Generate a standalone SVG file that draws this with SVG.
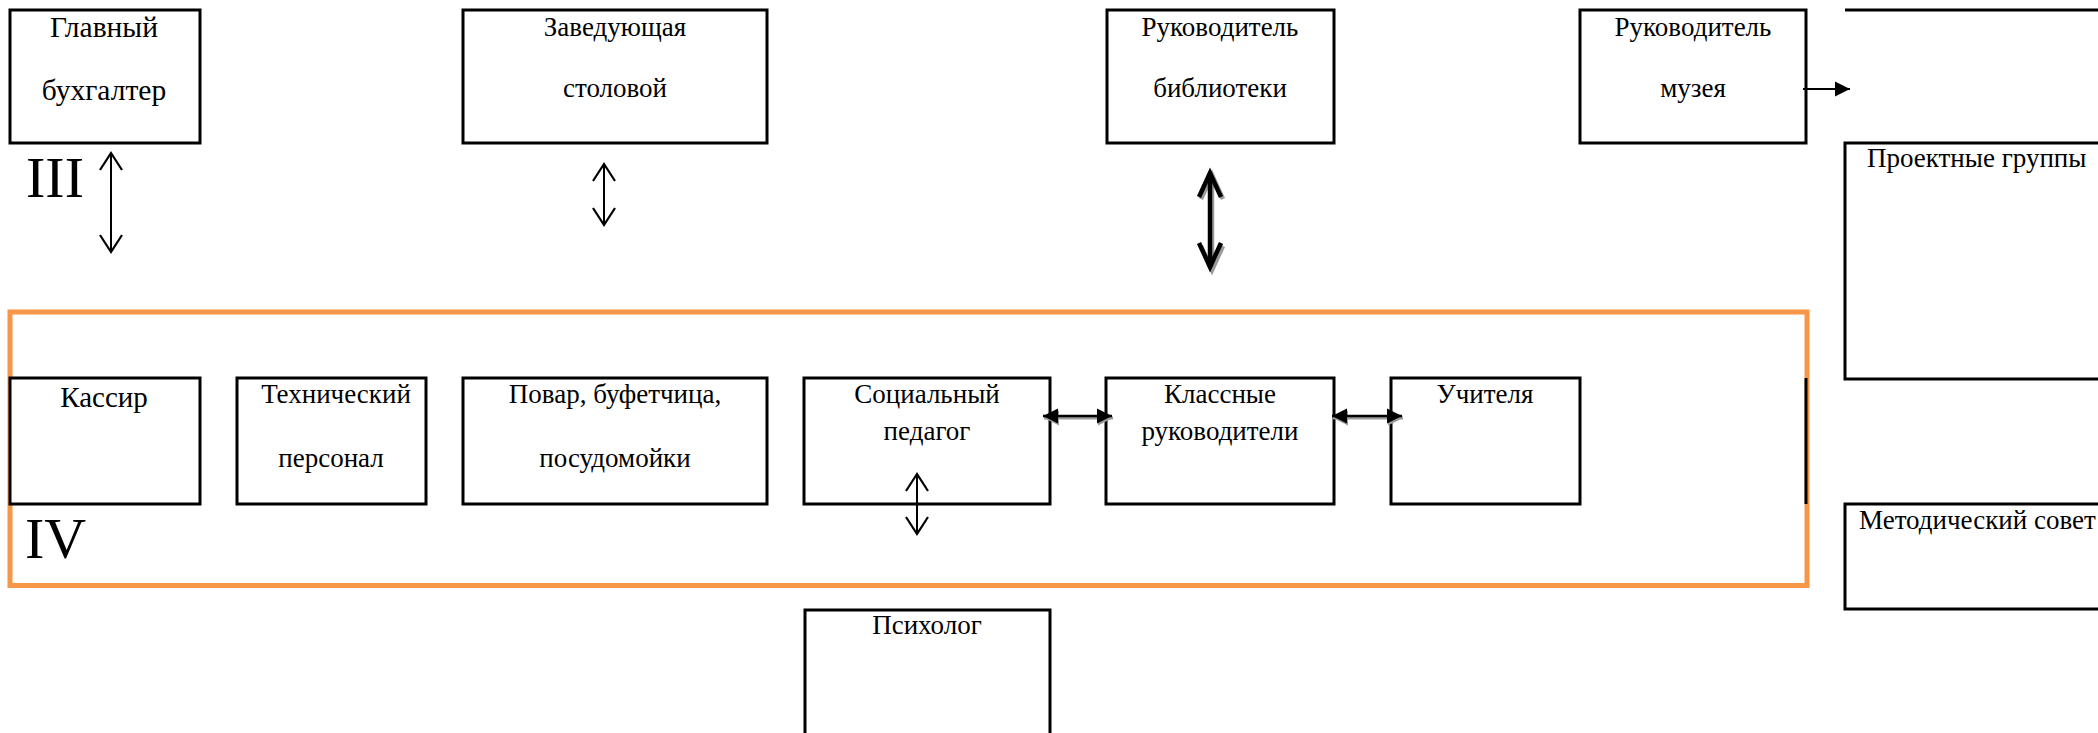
<svg xmlns="http://www.w3.org/2000/svg" width="2098" height="733" viewBox="0 0 2098 733">
<style>
.box{fill:#fff;stroke:#000;stroke-width:3}
.t{font-family:"Liberation Serif","Times New Roman",serif;font-size:27px;fill:#000;text-anchor:middle}
.big{font-size:29.5px}
.ts{text-anchor:start}
.roman{font-family:"Liberation Serif","Times New Roman",serif;font-size:58px;fill:#000}
.ln{stroke:#000;stroke-width:2;fill:none}
.thick{stroke:#000;stroke-width:4.5;fill:none}
.sh{stroke:#9a9a9a;fill:none}
.frame{fill:none;stroke:#F79646;stroke-width:5}
</style>
<defs>
<marker id="open" markerUnits="userSpaceOnUse" markerWidth="40" markerHeight="40" viewBox="-20 -20 40 40" refX="0" refY="0" orient="auto-start-reverse" overflow="visible">
<path d="M-17,-11 L0,0 L-17,11" fill="none" stroke="#000" stroke-width="2.2"/>
</marker>
<marker id="openThick" markerUnits="userSpaceOnUse" markerWidth="40" markerHeight="40" viewBox="-20 -20 40 40" refX="0" refY="0" orient="auto-start-reverse" overflow="visible">
<path d="M-24,-11 L0,0 L-24,11" fill="none" stroke="#000" stroke-width="4.5" stroke-linejoin="miter"/>
</marker>
<marker id="openThickSh" markerUnits="userSpaceOnUse" markerWidth="40" markerHeight="40" viewBox="-20 -20 40 40" refX="0" refY="0" orient="auto-start-reverse" overflow="visible">
<path d="M-24,-11 L0,0 L-24,11" fill="none" stroke="#9a9a9a" stroke-width="4.5"/>
</marker>
<marker id="fill" markerUnits="userSpaceOnUse" markerWidth="40" markerHeight="40" viewBox="-20 -20 40 40" refX="0" refY="0" orient="auto-start-reverse" overflow="visible">
<path d="M-15,-7.5 L0,0 L-15,7.5 Z" fill="#000"/>
</marker>
<marker id="fillSh" markerUnits="userSpaceOnUse" markerWidth="40" markerHeight="40" viewBox="-20 -20 40 40" refX="0" refY="0" orient="auto-start-reverse" overflow="visible">
<path d="M-15,-7.5 L0,0 L-15,7.5 Z" fill="#9a9a9a"/>
</marker>
</defs>

<rect id="level-iv-frame" class="frame" x="10" y="312" width="1797" height="273.5"/>

<g id="glavbuh">
<rect class="box" x="10" y="10" width="190" height="133"/>
<text class="t big" x="104" y="37">Главный</text>
<text class="t big" x="104" y="100">бухгалтер</text>
</g>
<g id="zav-stolovoy">
<rect class="box" x="463" y="10" width="304" height="133"/>
<text class="t" x="615" y="36">Заведующая</text>
<text class="t" x="615" y="97">столовой</text>
</g>
<g id="ruk-biblioteki">
<rect class="box" x="1107" y="10" width="227" height="133"/>
<text class="t" x="1220" y="36">Руководитель</text>
<text class="t" x="1220" y="97">библиотеки</text>
</g>
<g id="ruk-muzeya">
<rect class="box" x="1580" y="10" width="226" height="133"/>
<text class="t" x="1693" y="36">Руководитель</text>
<text class="t" x="1693" y="97">музея</text>
</g>
<g id="top-right">
<line class="ln" x1="1845" y1="10" x2="2098" y2="10" style="stroke-width:3"/>
</g>
<g id="proektnye">
<rect class="box" x="1845" y="143" width="270" height="236"/>
<text class="t ts" x="1867" y="167">Проектные группы</text>
</g>
<g id="metodsovet">
<rect class="box" x="1845" y="504" width="270" height="105"/>
<text class="t ts" x="1859" y="529">Методический совет</text>
</g>

<text id="label-iii" class="roman" x="26" y="197">III</text>
<text id="label-iv" class="roman" x="25" y="558">IV</text>

<g id="kassir">
<rect class="box" x="10" y="378" width="190" height="126"/>
<text class="t" x="104" y="407" style="font-size:29px">Кассир</text>
</g>
<g id="tekh-personal">
<rect class="box" x="237" y="378" width="189" height="126"/>
<text class="t" x="336" y="403">Технический</text>
<text class="t" x="331" y="467">персонал</text>
</g>
<g id="povar">
<rect class="box" x="463" y="378" width="304" height="126"/>
<text class="t" x="615" y="403">Повар, буфетчица,</text>
<text class="t" x="615" y="467">посудомойки</text>
</g>
<g id="socpedagog">
<rect class="box" x="804" y="378" width="246" height="126"/>
<text class="t" x="927" y="403">Социальный</text>
<text class="t" x="927" y="440">педагог</text>
</g>
<g id="klassnye">
<rect class="box" x="1106" y="378" width="228" height="126"/>
<text class="t" x="1220" y="403">Классные</text>
<text class="t" x="1220" y="440">руководители</text>
</g>
<g id="uchitelya">
<rect class="box" x="1391" y="378" width="189" height="126"/>
<text class="t" x="1485" y="403">Учителя</text>
</g>
<g id="right-edge">
<line class="ln" x1="1806" y1="378" x2="1806" y2="504" style="stroke-width:3"/>
</g>
<g id="psiholog">
<rect class="box" x="805" y="610" width="245" height="140"/>
<text class="t" x="927" y="634">Психолог</text>
</g>

<g id="connectors">
<line class="ln" x1="111" y1="153" x2="111" y2="252" marker-start="url(#open)" marker-end="url(#open)"/>
<line class="ln" x1="604" y1="164" x2="604" y2="225" marker-start="url(#open)" marker-end="url(#open)"/>
<line class="sh" style="stroke-width:4.5" x1="1212" y1="175" x2="1212" y2="270" marker-start="url(#openThickSh)" marker-end="url(#openThickSh)"/>
<line class="thick" x1="1210" y1="173" x2="1210" y2="267" marker-start="url(#openThick)" marker-end="url(#openThick)"/>
<line class="ln" x1="1803" y1="89" x2="1850" y2="89" marker-end="url(#fill)"/>
<line class="sh" style="stroke-width:3" x1="1044" y1="418" x2="1113" y2="418" marker-start="url(#fillSh)" marker-end="url(#fillSh)"/>
<line class="ln" style="stroke-width:2.5" x1="1043" y1="416" x2="1112" y2="416" marker-start="url(#fill)" marker-end="url(#fill)"/>
<line class="sh" style="stroke-width:3" x1="1333" y1="418" x2="1403" y2="418" marker-start="url(#fillSh)" marker-end="url(#fillSh)"/>
<line class="ln" style="stroke-width:2.5" x1="1332" y1="416" x2="1402" y2="416" marker-start="url(#fill)" marker-end="url(#fill)"/>
<line class="ln" x1="917" y1="474" x2="917" y2="534" marker-start="url(#open)" marker-end="url(#open)"/>
</g>
</svg>
